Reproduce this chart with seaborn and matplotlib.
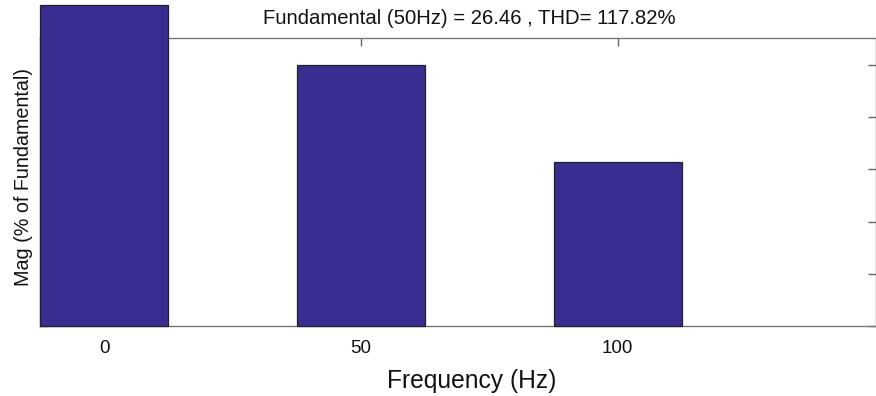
import matplotlib
matplotlib.use("Agg")
import matplotlib.pyplot as plt
import seaborn as sns
import pandas as pd

# Harmonic spectrum (magnitude as % of the 50 Hz fundamental)
freqs_hz = [0, 50, 100]
mag_pct = [122.8, 100.0, 62.8]
title_text = "Fundamental (50Hz) = 26.46 , THD= 117.82%"
xtick_vals = [0, 50, 100]
ytick_vals = [0, 20, 40, 60, 80, 100]

sns.set_style("white")
plt.rcParams["font.family"] = ["Liberation Sans", "DejaVu Sans"]
plt.rcParams["text.color"] = "#111111"
plt.rcParams["xtick.labelcolor"] = "#111111"

df = pd.DataFrame({"freq": freqs_hz, "mag": mag_pct})

fig = plt.figure(figsize=(8.76, 3.96), dpi=100)
ax = fig.add_axes([40 / 876, 70 / 396, 835.5 / 876, 288 / 396])

bar_color = "#3a2d91"
sns.barplot(data=df, x="freq", y="mag", native_scale=True, width=0.5,
            color=bar_color, saturation=1, edgecolor="#222222",
            linewidth=0.9, ax=ax, zorder=3)
for p in ax.patches:
    p.set_clip_on(False)

ax.set_xlim(-12.5, 150.2)
ax.set_ylim(0, 110.3)
ax.set_xticks(xtick_vals)
ax.set_xticklabels([str(v) for v in xtick_vals])
ax.set_yticks(ytick_vals)
ax.set_axisbelow(True)

ax.tick_params(axis="x", direction="in", length=6, width=1, color="#666666",
               top=True, bottom=True, labelsize=13.5, pad=10,
               labelcolor="#111111")
ax.tick_params(axis="y", direction="in", length=6, width=1, color="#666666",
               left=True, right=True, labelleft=False)

for s in ax.spines.values():
    s.set_visible(True)
    s.set_color("#777777")
    s.set_linewidth(1.0)

ax.set_xlabel("")
ax.set_ylabel("")
fig.text(472 / 876, 1 - 381 / 396, "Frequency (Hz)", ha="center",
         va="center", fontsize=17.7)
fig.text(24 / 876, 1 - 177 / 396, "Mag (% of Fundamental)", rotation=90,
         ha="center", va="center", fontsize=14.2)
fig.text(469 / 876, 1 - 18 / 396, title_text, ha="center", va="center",
         fontsize=14.6)

fig.savefig("out.png", dpi=100, facecolor="white")
